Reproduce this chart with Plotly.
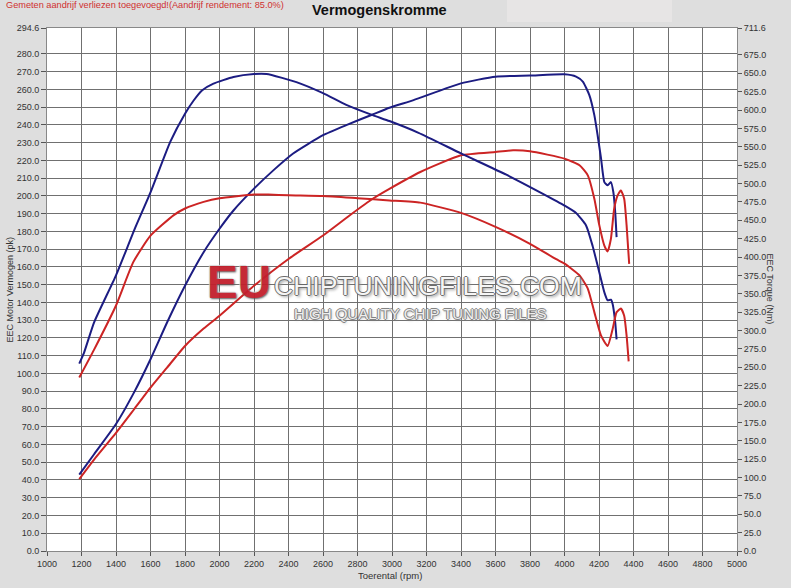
import plotly.graph_objects as go

# ---------------- data ----------------
rpm_power_tuned = [1187, 1273, 1400, 1504, 1600, 1696, 1800, 1908, 2000, 2081, 2200, 2312, 2427, 2600, 2735,
                   2888, 2985, 3125, 3400, 3600, 3800, 4000, 4067, 4106, 4144, 4173, 4192, 4212, 4231, 4250,
                   4269, 4283, 4294, 4302]
power_tuned_pk = [43, 54.5, 71.5, 89.2, 108, 128.7, 149.4, 168.3, 181.5, 191.8, 204.1, 214.4, 223.9, 234.2, 239.9,
                  245.9, 249.7, 254, 263.4, 267.2, 267.8, 268.5, 267.2, 264.4, 256.8, 245.5, 234.2, 221, 207.8, 206,
                  207.8, 202.2, 190.9, 176.8]

rpm_torque_tuned = [1187, 1215, 1273, 1400, 1508, 1600, 1715, 1800, 1850, 1900, 1965, 2081, 2200, 2273, 2446,
                    2600, 2735, 2888, 2985, 3154, 3400, 3663, 3875, 4000, 4067, 4125, 4163, 4202, 4231, 4250,
                    4269, 4279, 4294, 4302]
torque_tuned_nm = [255, 270, 311, 375, 438, 488, 557, 595, 613, 627, 636, 645, 649, 649, 638,
                   623, 607, 593, 585, 569, 541, 512, 486, 470, 460, 443, 415, 379, 352, 341,
                   342, 336, 311, 288]

rpm_power_stock = [1187, 1273, 1400, 1504, 1600, 1696, 1800, 1908, 2000, 2200, 2400, 2600, 2754, 2888, 2985,
                   3164, 3400, 3600, 3702, 3800, 4000, 4087, 4135, 4173, 4202, 4231, 4250, 4269, 4288, 4308,
                   4327, 4346, 4360, 4375]
power_stock_pk = [40.5, 51.5, 66.5, 79.7, 92, 103.3, 115.5, 125.3, 132.5, 149.4, 164.5, 177.7, 189, 198.4, 204,
                  213.5, 222.9, 224.8, 225.7, 225.2, 221, 217.3, 211.6, 198.4, 183.4, 172, 168.7, 175.8, 192.8, 200.3,
                  203.1, 198.4, 183.4, 161.7]

rpm_torque_stock = [1187, 1273, 1400, 1500, 1600, 1735, 1800, 1908, 2000, 2200, 2283, 2400, 2600, 2800, 2985,
                    3164, 3400, 3600, 3800, 3952, 4000, 4087, 4135, 4173, 4212, 4250, 4279, 4302, 4327, 4346,
                    4360, 4372]
torque_stock_nm = [236, 274, 334, 393, 429, 457, 466, 475, 480, 485, 485, 484, 483, 480, 477,
                   474, 460, 441, 418, 397, 391, 375, 357, 325, 293, 279, 302, 325, 330, 320,
                   293, 258]

x_ticks = list(range(1000, 5001, 200))
y_left_max = 294.6
y_right_max = 711.6
y_left_ticks = [v * 10 for v in range(0, 29)] + [y_left_max]
y_right_ticks = [v * 25 for v in range(0, 28)] + [y_right_max]

# ---------------- figure ----------------
BLUE = "#1c1c82"
RED = "#cc2424"
FONT = "Liberation Sans, Arial, sans-serif"

fig = go.Figure()
fig.add_trace(go.Scatter(x=rpm_power_tuned, y=power_tuned_pk, mode="lines",
                         line=dict(color=BLUE, width=2, shape="spline", smoothing=0.5), yaxis="y"))
fig.add_trace(go.Scatter(x=rpm_torque_tuned, y=torque_tuned_nm, mode="lines",
                         line=dict(color=BLUE, width=2, shape="spline", smoothing=0.5), yaxis="y2"))
fig.add_trace(go.Scatter(x=rpm_power_stock, y=power_stock_pk, mode="lines",
                         line=dict(color=RED, width=2, shape="spline", smoothing=0.5), yaxis="y"))
fig.add_trace(go.Scatter(x=rpm_torque_stock, y=torque_stock_nm, mode="lines",
                         line=dict(color=RED, width=2, shape="spline", smoothing=0.5), yaxis="y2"))

tickfont = dict(family=FONT, size=9, color="#333333")
GRID = "#707070"

fig.update_layout(
    width=791, height=588,
    margin=dict(l=47, r=54, t=28, b=37, autoexpand=False),
    paper_bgcolor="#dedede",
    plot_bgcolor="#ffffff",
    showlegend=False,
    font=dict(family=FONT, size=9, color="#333333"),
    xaxis=dict(range=[1000, 5000], tickvals=x_ticks, ticktext=[str(v) for v in x_ticks],
               ticks="outside", ticklen=4, tickcolor="#555555", tickfont=tickfont, automargin=False,
               showgrid=True, gridcolor=GRID, gridwidth=1, zeroline=False,
               showline=True, linecolor="#888888", linewidth=1, mirror=True),
    yaxis=dict(range=[0, y_left_max], tickvals=y_left_ticks,
               ticktext=[f"{v:.1f}" for v in y_left_ticks], automargin=False,
               ticks="outside", ticklen=5, tickcolor="#555555", tickfont=tickfont,
               showgrid=True, gridcolor=GRID, gridwidth=1, zeroline=False,
               showline=True, linecolor="#888888", linewidth=1, mirror=True),
    yaxis2=dict(range=[0, y_right_max], tickvals=y_right_ticks,
                ticktext=[f"{v:.1f}" for v in y_right_ticks], automargin=False,
                overlaying="y", side="right",
                ticks="outside", ticklen=4, tickcolor="#555555", tickfont=tickfont,
                showgrid=False, zeroline=False),
)

fig.add_shape(type="rect", xref="paper", yref="paper", x0=0.6667, x1=0.9058, y0=1.0115, y1=1.06,
              fillcolor="#e7e5e5", line=dict(width=0), layer="below")

annotations = [
    dict(text="Vermogenskromme", x=0.4826, y=1.0535, xref="paper", yref="paper",
         showarrow=False, font=dict(family=FONT, size=14.5, color="#111111", weight="bold")),
    dict(text="Gemeten aandrijf verliezen toegevoegd!(Aandrijf rendement: 85.0%)",
         x=-0.0623, y=1.0574, xref="paper", yref="paper", xanchor="left",
         showarrow=False, font=dict(family=FONT, size=9.2, color="#d03030")),
    dict(text="EEC Motor Vermogen (pk)", x=-0.0638, y=0.5, xref="paper", yref="paper",
         textangle=-90, showarrow=False, font=dict(family=FONT, size=9, color="#333333")),
    dict(text="EEC Torque (Nm)", x=1.0594, y=0.5, xref="paper", yref="paper",
         textangle=90, showarrow=False, font=dict(family=FONT, size=9, color="#333333")),
    dict(text="Toerental (rpm)", x=0.497, y=-0.0612, xref="paper", yref="paper",
         showarrow=False, font=dict(family=FONT, size=9.5, color="#333333")),
    # watermark
    dict(text="EU", x=0.229, y=0.5143, xref="paper", yref="paper", showarrow=False,
         font=dict(family=FONT, size=46, color="#c21f2c", weight="bold",
                   shadow="1px 1px 2px #555, -1px -1px 1px #ddd"), opacity=0.95),
    dict(text="CHIPTUNINGFILES.COM", x=0.326, y=0.5067, xref="paper", yref="paper", showarrow=False,
         xanchor="left",
         font=dict(family=FONT, size=26.5, color="#f6f6f6",
                   shadow="1px 0 0 #666, -1px 0 0 #666, 0 1px 0 #666, 0 -1px 0 #666, 2px 2px 3px #999"),
         opacity=0.95),
    dict(text="HIGH QUALITY CHIP TUNING FILES", x=0.5406, y=0.455, xref="paper", yref="paper",
         showarrow=False,
         font=dict(family=FONT, size=15, color="#eeeeee",
                   shadow="1px 0 0 #777, -1px 0 0 #777, 0 1px 0 #777, 0 -1px 0 #777, 1px 1px 3px #999"),
         opacity=0.9),
]
fig.update_layout(annotations=annotations)

fig.write_html("out.html", config={"displayModeBar": False},
               post_script="document.body.style.margin = '0px';")
